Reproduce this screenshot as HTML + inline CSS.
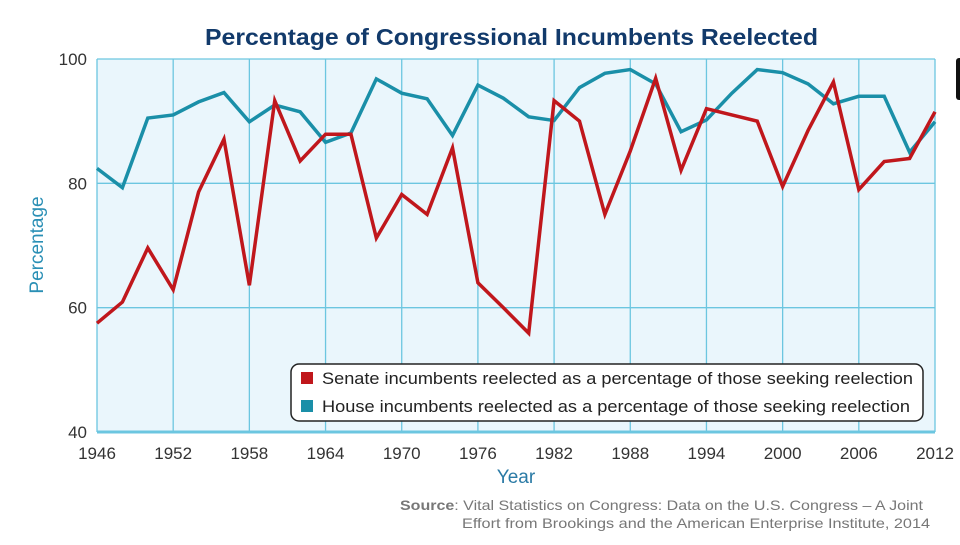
<!DOCTYPE html>
<html><head><meta charset="utf-8"><style>
body{margin:0;width:960px;height:540px;background:#fff;overflow:hidden;font-family:"Liberation Sans",sans-serif}
</style></head><body>
<svg id="chart" width="960" height="540" xmlns="http://www.w3.org/2000/svg">
<text x="205" y="45" textLength="613" lengthAdjust="spacingAndGlyphs" font-size="23" font-weight="bold" fill="#123a6b">Percentage of Congressional Incumbents Reelected</text>
<rect x="956" y="58" width="8" height="42" rx="3" fill="#111"/>
<g id="plot"></g>
<text transform="translate(43,245) rotate(-90)" text-anchor="middle" font-size="19" fill="#2a8fb5">Percentage</text>
<text x="516" y="483" text-anchor="middle" font-size="19" fill="#2a7aa5">Year</text>
<text x="400" y="510" textLength="523" lengthAdjust="spacingAndGlyphs" font-size="14" fill="#777"><tspan font-weight="bold">Source</tspan>: Vital Statistics on Congress: Data on the U.S. Congress – A Joint</text>
<text x="462" y="528" textLength="468" lengthAdjust="spacingAndGlyphs" font-size="14" fill="#777">Effort from Brookings and the American Enterprise Institute, 2014</text>
<g>
<rect x="291" y="364" width="632" height="57" rx="8" fill="#fff" stroke="#222" stroke-width="1.5"/>
<rect x="301" y="372" width="12" height="12" fill="#c0171c"/>
<text x="322" y="384" textLength="591" lengthAdjust="spacingAndGlyphs" font-size="17" fill="#222">Senate incumbents reelected as a percentage of those seeking reelection</text>
<rect x="301" y="400" width="12" height="12" fill="#1a8fa8"/>
<text x="322" y="412" textLength="588" lengthAdjust="spacingAndGlyphs" font-size="17" fill="#222">House incumbents reelected as a percentage of those seeking reelection</text>
</g>
</svg>
<script>
const years=[1946,1948,1950,1952,1954,1956,1958,1960,1962,1964,1966,1968,1970,1972,1974,1976,1978,1980,1982,1984,1986,1988,1990,1992,1994,1996,1998,2000,2002,2004,2006,2008,2010,2012];
const senate=[57.5,60.9,69.6,62.9,78.6,87.1,63.6,93.3,83.6,87.9,87.9,71.2,78.2,75,85.7,64,60,55.9,93.3,90,75,85.2,96.9,82.1,92,91,90,79.5,88.5,96.3,79,83.5,84,91.5];
const house=[82.4,79.3,90.5,91,93.1,94.6,89.9,92.6,91.5,86.6,88.1,96.8,94.5,93.6,87.7,95.8,93.7,90.7,90.1,95.4,97.7,98.3,96,88.3,90.2,94.5,98.3,97.8,96,92.8,94,94,85,89.9];
const xTicks=[1946,1952,1958,1964,1970,1976,1982,1988,1994,2000,2006,2012];
const yTicks=[40,60,80,100];
const L=97,R=935,T=59,B=432;
const xs=y=>L+(y-1946)/(2012-1946)*(R-L);
const ys=v=>B-(v-40)/60*(B-T);
const NS="http://www.w3.org/2000/svg";
const g=document.getElementById('plot');
function mk(t,a){const e=document.createElementNS(NS,t);for(const k in a)e.setAttribute(k,a[k]);g.appendChild(e);return e;}
let e=mk('rect',{x:L,y:T,width:R-L,height:B-T,fill:'#eaf6fc'});


xTicks.forEach(t=>{const l=mk('line',{x1:xs(t),x2:xs(t),y1:T,y2:B,stroke:'#6cc6e0','stroke-width':1.3});


const tx=mk('text',{x:xs(t),y:B+27,'text-anchor':'middle','font-size':17,fill:'#333'});tx.textContent=t;

});
yTicks.forEach(t=>{const l=mk('line',{x1:L,x2:R,y1:ys(t),y2:ys(t),stroke:'#6cc6e0','stroke-width':t==40?3:1.3});


const tx=mk('text',{x:L-10,y:ys(t)+6,'text-anchor':'end','font-size':17,fill:'#333'});tx.textContent=t;

});
function line(vals,col,name){const p=mk('polyline',{points:vals.map((v,i)=>xs(years[i])+','+ys(v)).join(' '),fill:'none',stroke:col,'stroke-width':3.5,'stroke-linejoin':'miter'});

}
line(house,'#1a8fa8','house-line');
line(senate,'#c0171c','senate-line');
</script>
</body></html>
